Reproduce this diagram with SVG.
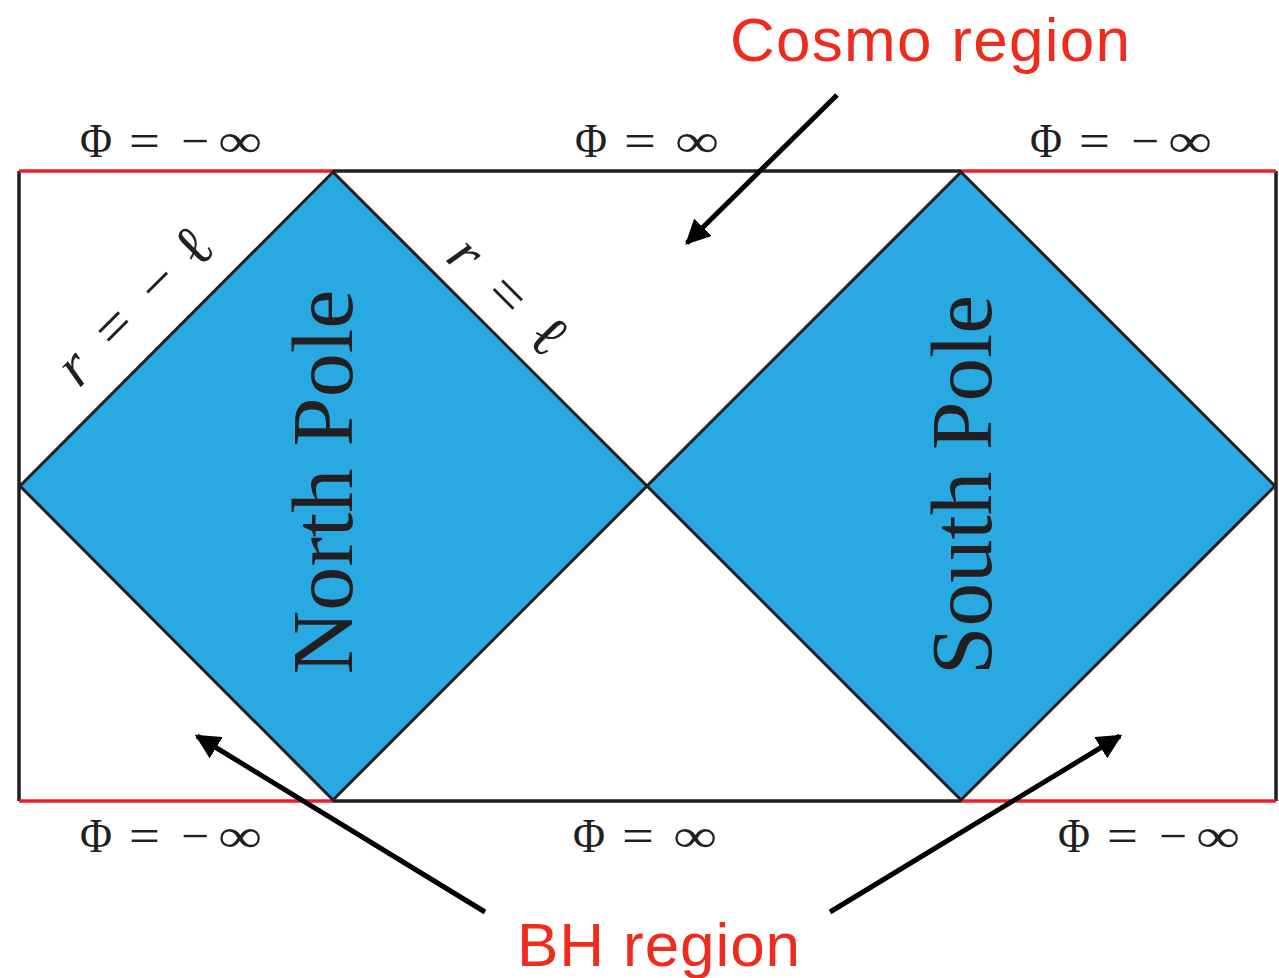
<svg xmlns="http://www.w3.org/2000/svg" xmlns:xlink="http://www.w3.org/1999/xlink" width="1279" height="978" viewBox="0 0 1279 978">
<style>
.dia{fill:#29a9e1;stroke:#231f20;stroke-width:3;stroke-linejoin:miter}
.edge{stroke:#231f20;stroke-width:3.5;fill:none}
.red{stroke:#e8202a;stroke-width:3.5;fill:none}
.arr{stroke:#000;stroke-width:5;fill:none}
.lab{font-family:"Liberation Serif","DejaVu Serif",serif;font-size:48px;fill:#231f20}
.rl{font-family:"Liberation Serif","DejaVu Serif",serif;font-size:60px;fill:#231f20;text-anchor:middle}
.it{font-style:italic}
.pole{font-family:"Liberation Serif","DejaVu Serif",serif;font-size:86px;fill:#231f20}
.ann{font-family:"Liberation Sans",Arial,sans-serif;font-size:62px;fill:#ef2b1e}
</style>
<defs>
<marker id="ah" viewBox="0 0 10 10" refX="9" refY="5" markerWidth="5" markerHeight="5" orient="auto" markerUnits="strokeWidth">
<path d="M0,0 L10,5 L0,10 z" fill="#000"/>
</marker>
<g id="phiNeg" class="lab">
<text x="0" y="0" textLength="32" lengthAdjust="spacingAndGlyphs">Φ</text>
<text x="49" y="0" textLength="31" lengthAdjust="spacingAndGlyphs">=</text>
<text x="101" y="0" textLength="28" lengthAdjust="spacingAndGlyphs">−</text>
<text x="138" y="0" textLength="44" lengthAdjust="spacingAndGlyphs">∞</text>
</g>
<g id="phiPos" class="lab">
<text x="0" y="0" textLength="32" lengthAdjust="spacingAndGlyphs">Φ</text>
<text x="49" y="0" textLength="32" lengthAdjust="spacingAndGlyphs">=</text>
<text x="100" y="0" textLength="44" lengthAdjust="spacingAndGlyphs">∞</text>
</g>
</defs>
<rect width="1279" height="978" fill="#fff"/>
<g id="frame">
<line class="edge" x1="19" y1="171" x2="19" y2="801"/>
<line class="edge" x1="1276" y1="171" x2="1276" y2="801"/>
<line class="edge" x1="333" y1="171" x2="961" y2="171"/>
<line class="edge" x1="333" y1="801" x2="961" y2="801"/>
<line class="red" x1="19" y1="171" x2="333" y2="171"/>
<line class="red" x1="961" y1="171" x2="1276" y2="171"/>
<line class="red" x1="19" y1="801" x2="333" y2="801"/>
<line class="red" x1="961" y1="801" x2="1276" y2="801"/>
</g>
<g id="north">
<polygon class="dia" points="333,172 647,486 333,800 20,486"/>
<text class="pole" transform="translate(352,482) rotate(-90)" text-anchor="middle" textLength="385" lengthAdjust="spacingAndGlyphs">North Pole</text>
</g>
<g id="south">
<polygon class="dia" points="961,172 1275,486 961,800 647,486"/>
<text class="pole" transform="translate(991,485) rotate(-90)" text-anchor="middle" textLength="380" lengthAdjust="spacingAndGlyphs">South Pole</text>
</g>
<g id="labels">
<use xlink:href="#phiNeg" href="#phiNeg" transform="translate(80,157)"/>
<use xlink:href="#phiPos" href="#phiPos" transform="translate(575,157)"/>
<use xlink:href="#phiNeg" href="#phiNeg" transform="translate(1030,157)"/>
<use xlink:href="#phiNeg" href="#phiNeg" transform="translate(80,852)"/>
<use xlink:href="#phiPos" href="#phiPos" transform="translate(573,852)"/>
<use xlink:href="#phiNeg" href="#phiNeg" transform="translate(1058,852)"/>
<g transform="translate(73,395) rotate(-45)">
<text class="rl it" x="20" y="0">r</text>
<text class="rl" x="77" y="0">=</text>
<text class="rl" x="139" y="0">−</text>
<text class="rl" x="190" y="0">ℓ</text>
</g>
<g transform="translate(430,245) rotate(45)">
<text class="rl it" x="32" y="0">r</text>
<text class="rl" x="90" y="0">=</text>
<text class="rl" x="148" y="0">ℓ</text>
</g>
</g>
<g id="annotations">
<text class="ann" x="730" y="61" textLength="400">Cosmo region</text>
<text class="ann" x="517" y="966" textLength="283">BH region</text>
</g>
<g id="connectors">
<line class="arr" x1="837" y1="95" x2="687" y2="243" marker-end="url(#ah)"/>
<line class="arr" x1="485" y1="912" x2="197" y2="736" marker-end="url(#ah)"/>
<line class="arr" x1="830" y1="912" x2="1120" y2="736" marker-end="url(#ah)"/>
</g>
</svg>
